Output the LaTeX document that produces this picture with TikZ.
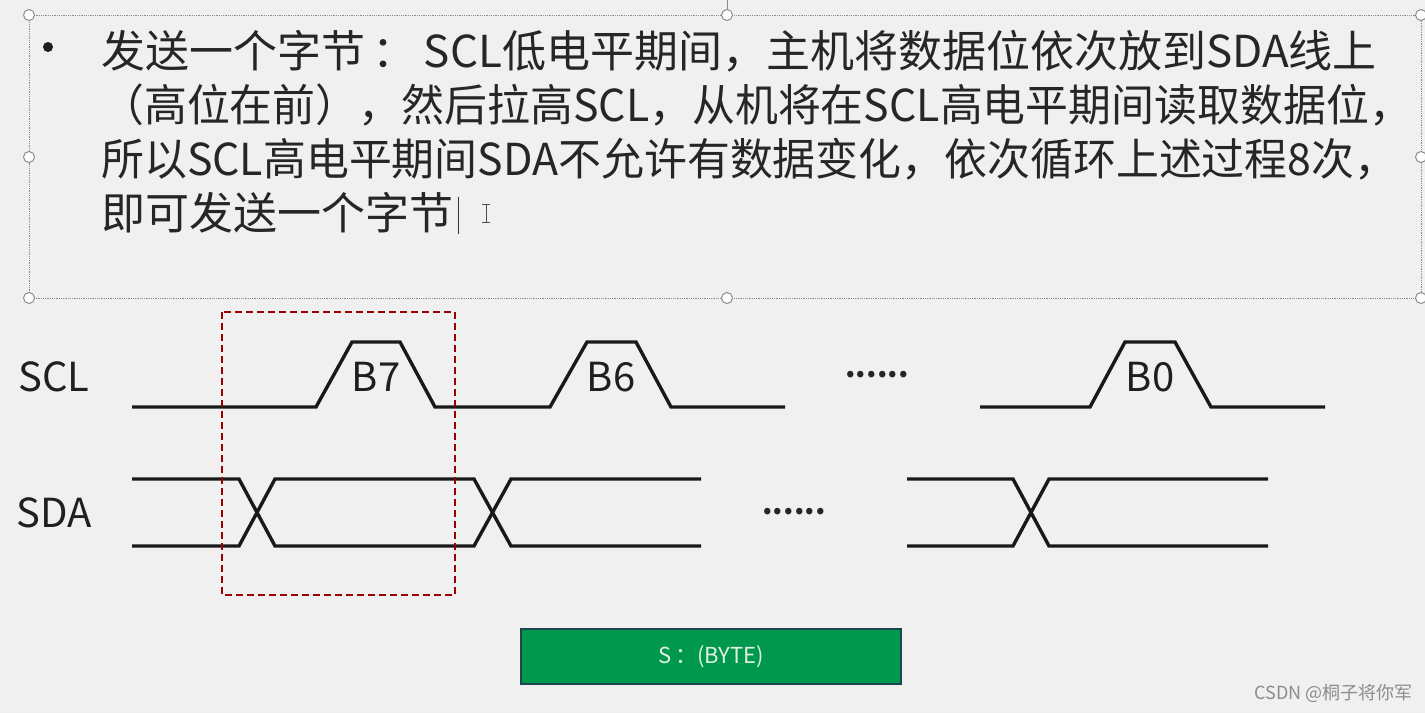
\documentclass[tikz,border=0pt]{standalone}
\usepackage{fontspec}
\setmainfont{Noto Sans CJK SC}
\definecolor{boxgreen}{RGB}{0,152,76}
\definecolor{boxedge}{RGB}{30,70,80}
\definecolor{boxtext}{RGB}{225,240,228}
\definecolor{bg}{RGB}{240,240,240}
\begin{document}
\begin{tikzpicture}[x=1pt,y=-1pt,
  wave/.style={line width=3.4pt,line join=miter,black!90},
  txt/.style={inner sep=0pt,anchor=base west,font=\fontsize{44}{54}\selectfont,text=black!85},
  siglab/.style={inner sep=0pt,font=\fontsize{40}{48}\selectfont,text=black!88},
  handle/.style={circle,draw=black!45,fill=white,line width=1pt,minimum size=11pt,inner sep=0pt},
  dots/.style={inner sep=0pt,font=\fontsize{30}{30}\selectfont\bfseries,text=black!85}]
\useasboundingbox (0,0) rectangle (1425,713);
\fill[bg] (0,0) rectangle (1425,713);
% text box
\draw[black!45,densely dotted,line width=0.8pt] (29,15) rectangle (1421,298);
\draw[black!45,line width=0.8pt] (727,0) -- (727,9);
\foreach \n/\p in {h1/{(29,15)},h2/{(727,15)},h3/{(1421,15)},h4/{(29,157)},h5/{(1421,157)},h6/{(29,298)},h7/{(727,298)},h8/{(1421,298)}}
  \node[handle] (\n) at \p {};
\fill[black!88] (48,47) circle (5);
\node[txt] (l1) at (101,67) {发送一个字节\,：\,SCL低电平期间，主机将数据位依次放到SDA线上};
\node[txt] (l2) at (101,121) {\scalebox{0.975}[1]{（高位在前），然后拉高SCL，从机将在SCL高电平期间读取数据位，}};
\node[txt] (l3) at (101,175) {\scalebox{0.975}[1]{所以SCL高电平期间SDA不允许有数据变化，依次循环上述过程8次，}};
\node[txt] (l4) at (101,229) {即可发送一个字节};
\draw[black!80,line width=1pt] (458,197) -- (458,234);
\draw[black!70,line width=1pt] (486,204) -- (486,222) (482,204) -- (490,204) (482,222) -- (490,222);
% labels
\node[siglab] (scl) at (54,377) {SCL};
\node[siglab] (sda) at (54,513) {SDA};
% SCL waveform
\draw[wave] (132,407) -- (316,407) -- (352,342) -- (400,342) -- (435,407) -- (550,407) -- (587,342) -- (636,342) -- (671,407) -- (785,407);
\draw[wave] (980,407) -- (1090,407) -- (1125,342) -- (1175,342) -- (1211,407) -- (1325,407);
\node[siglab] (b7) at (376,377) {B7};
\node[siglab] (b6) at (611,377) {B6};
\node[siglab] (b0) at (1150,377) {B0};
\node[dots] (d1) at (877,375) {......};
\node[dots] (d2) at (794,512) {......};
% SDA waveform
\draw[wave] (132,479) -- (239,479) -- (275,546) -- (474,546) -- (511,479) -- (701,479);
\draw[wave] (132,546) -- (239,546) -- (275,479) -- (474,479) -- (511,546) -- (701,546);
\draw[wave] (907,479) -- (1013,479) -- (1049,546) -- (1268,546);
\draw[wave] (907,546) -- (1013,546) -- (1049,479) -- (1268,479);
% red dashed box
\draw[red!60!black,line width=1.2pt,dash pattern=on 7pt off 4pt] (222,312) rectangle (455,595);
% green box
\node[draw=boxedge,fill=boxgreen,line width=1.2pt,minimum width=380pt,minimum height=55pt,inner sep=0pt,text=boxtext,font=\fontsize{22}{24}\selectfont] (byte) at (711,656.5) {S\,：(BYTE)};
% watermark
\node[inner sep=0pt,anchor=east,text=black!45,font=\fontsize{18}{19}\selectfont] (wm) at (1413,693) {CSDN @桐子将你军};
\end{tikzpicture}
\end{document}
